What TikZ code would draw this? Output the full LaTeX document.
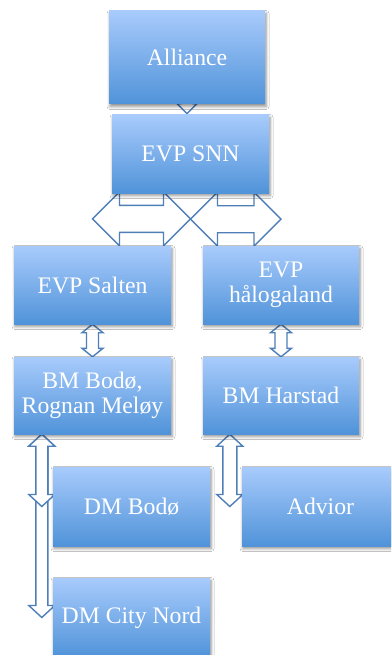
\documentclass[tikz,border=0pt]{standalone}
\usepackage{fontspec}
\setmainfont{Liberation Serif}
\usetikzlibrary{calc,backgrounds,shadows.blur}
\definecolor{boxtop}{RGB}{168,203,252}
\definecolor{boxbot}{RGB}{80,147,217}
\definecolor{arrline}{RGB}{79,127,184}
\tikzset{
  orgbox/.style={rectangle, inner sep=0pt, minimum width=157pt,
    top color=boxtop, bottom color=boxbot, draw=none,
    text=white, align=center,
    font=\fontsize{23.7}{25}\selectfont,
    blur shadow={shadow xshift=1pt, shadow yshift=-2.5pt, shadow blur radius=3pt, shadow opacity=45}},
  blockarrow/.style={draw=arrline, fill=white, line width=1.4pt, line join=miter}
}
% vertical double block arrow: #1 top tip, #2 bottom tip, #3 shaft half width, #4 head half width, #5 head length
\newcommand\vdarr[5]{%
  \path[blockarrow] let \p1=(#1), \p2=(#2) in
  (\x1,\y1) -- (\x1+#4,\y1-#5) -- (\x1+#3,\y1-#5) -- (\x1+#3,\y2+#5) -- (\x1+#4,\y2+#5)
  -- (\x1,\y2) -- (\x1-#4,\y2+#5) -- (\x1-#3,\y2+#5) -- (\x1-#3,\y1-#5) -- (\x1-#4,\y1-#5) -- cycle;}
% horizontal double block arrow: #1 left tip, #2 right tip
\newcommand\hdarr[5]{%
  \path[blockarrow] let \p1=(#1), \p2=(#2) in
  (\x1,\y1) -- (\x1+#5,\y1+#4) -- (\x1+#5,\y1+#3) -- (\x2-#5,\y1+#3) -- (\x2-#5,\y1+#4)
  -- (\x2,\y1) -- (\x2-#5,\y1-#4) -- (\x2-#5,\y1-#3) -- (\x1+#5,\y1-#3) -- (\x1+#5,\y1-#4) -- cycle;}
\begin{document}
\begin{tikzpicture}[x={(1pt,0)}, y={(0,-1pt)}]
\useasboundingbox (0,0) rectangle (391,655);
\clip (0,0) rectangle (391,655);

\node[orgbox, minimum width=156pt, minimum height=93pt] (alliance) at (187,57.5) {Alliance};
\node[orgbox, minimum height=78pt] (snn) at (190.5,154) {EVP SNN};
\node[orgbox, minimum height=78pt] (salten) at (92.5,285) {EVP Salten};
\node[orgbox, minimum width=156pt, minimum height=78pt] (halo) at (281,285) {EVP\\hålogaland};
\node[orgbox, minimum height=77pt] (bmb) at (92.5,395.5) {BM Bodø,\\Rognan Meløy};
\node[orgbox, minimum width=156pt, minimum height=77pt] (bmh) at (281,395.5) {BM Harstad};
\node[orgbox, minimum height=79pt] (dmb) at (131.5,506.5) {DM Bodø};
\node[orgbox, minimum height=79pt] (advior) at (320.5,506.5) {Advior};
\node[orgbox, minimum height=79pt] (dmc) at (131.5,617.5) {DM City Nord};

\coordinate (vtop) at (alliance.center);
\coordinate (vbot) at ($(alliance.south)+(0,9.5)$);
\coordinate (hl) at ($(salten.north)+(0,-27)$);
\coordinate (hm) at ($(snn.south)+(0,26)$);
\coordinate (hr) at ($(halo.north)+(0,-27)$);
\coordinate (lt) at ($(bmb.south west)+(28,0)$);
\coordinate (lb1) at ($(dmb.west)+(-11,0)$);
\coordinate (lb2) at ($(dmc.west)+(-11,0)$);
\coordinate (rt) at ($(bmh.south west)+(27,0)$);
\coordinate (rb) at ($(advior.west)+(-12,0)$);

\begin{scope}[on background layer]
  \fill[white] (0,0) rectangle (391,655);
  \vdarr{vtop}{vbot}{6pt}{10pt}{10pt}
  \hdarr{hl}{hm}{13.5pt}{27pt}{27pt}
  \hdarr{hm}{hr}{13.5pt}{27pt}{27pt}
  \vdarr{salten.south}{bmb.north}{6pt}{10.5pt}{8.5pt}
  \vdarr{halo.south}{bmh.north}{6pt}{10.5pt}{8.5pt}
  \vdarr{lt}{lb2}{6pt}{13pt}{12pt}
  \vdarr{lt}{lb1}{6pt}{13pt}{12pt}
  \vdarr{rt}{rb}{7pt}{13pt}{12pt}
\end{scope}
\end{tikzpicture}
\end{document}
